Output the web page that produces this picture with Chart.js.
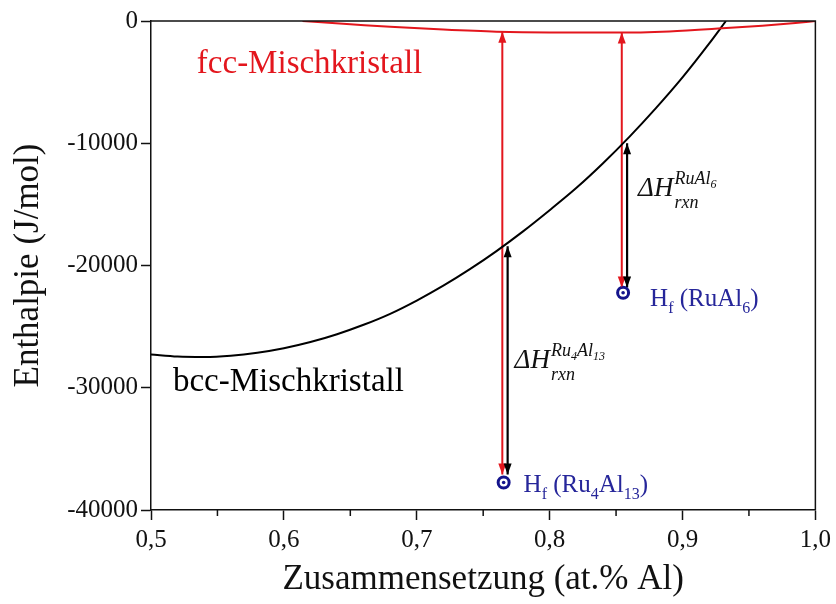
<!DOCTYPE html>
<html>
<head>
<meta charset="utf-8">
<script src="https://cdn.jsdelivr.net/npm/chart.js@4.4.1/dist/chart.umd.min.js"></script>
<style>
  html, body { margin: 0; padding: 0; background: #fff; }
  canvas { display: block; }
</style>
</head>
<body>
<canvas id="chart" width="836" height="604"></canvas>
<script>
// bcc solid solution: enthalpy (J/mol) over Al fraction
const bccX = [0.50, 0.52, 0.54, 0.56, 0.58, 0.60, 0.62, 0.64, 0.66, 0.68, 0.70, 0.72,
              0.74, 0.76, 0.78, 0.80, 0.82, 0.84, 0.86, 0.88, 0.90, 0.92, 0.9327];
const bccH = [-27270, -27440, -27475, -27375, -27135, -26765, -26260, -25620, -24850, -23950, -22865, -21650,
              -20300, -18820, -17210, -15480, -13670, -11660, -9480, -7130, -4615, -1856, 0];

// fcc solid solution
const fccX = [0.614, 0.65, 0.68, 0.72, 0.76, 0.80, 0.85, 0.89, 0.93, 0.96, 0.985, 1.00];
const fccH = [0, -260, -480, -700, -870, -940, -950, -850, -600, -380, -160, 0];

// intermetallic phases and their formation enthalpies
const phases = ["Ru4Al13", "RuAl6"];
const hfX = [0.7654, 0.8553];
const hfH = [-37750, -22230];
const fccAtPhase = [-880, -950];
const bccAtPhase = [-18420, -9990];
const arrowEnd = [-37100, -21800];

const xTicks = [0.5, 0.6, 0.7, 0.8, 0.9, 1.0];
const xMinor = [0.55, 0.65, 0.75, 0.85, 0.95];
const yTicks = [0, -10000, -20000, -30000, -40000];

const RED = "#e3161d";
const NAVY = "#14148c";
const LABEL_BLUE = "#26269a";
const INK = "#111";
const SERIF = "'Liberation Serif', 'Times New Roman', serif";

const arrowSets = [];
phases.forEach((p, i) => {
  arrowSets.push({
    label: "fcc → " + p,
    data: [{ x: hfX[i] - 0.001, y: arrowEnd[i] }, { x: hfX[i] - 0.001, y: fccAtPhase[i] }],
    borderColor: RED, borderWidth: 2, pointRadius: 0, arrowHeads: true, order: 4
  });
  arrowSets.push({
    label: "bcc → " + p,
    data: [{ x: hfX[i] + 0.003, y: arrowEnd[i] }, { x: hfX[i] + 0.003, y: bccAtPhase[i] }],
    borderColor: "#000", borderWidth: 2.2, pointRadius: 0, arrowHeads: true, order: 4
  });
});

const hfPoints = hfX.map((x, i) => ({ x, y: hfH[i] }));

function head(ctx, fx, fy, tx, ty) {
  const a = Math.atan2(ty - fy, tx - fx);
  const len = 11, half = 4;
  const c = Math.cos(a), s = Math.sin(a);
  ctx.beginPath();
  ctx.moveTo(tx, ty);
  ctx.lineTo(tx - len * c - half * s, ty - len * s + half * c);
  ctx.lineTo(tx - len * c + half * s, ty - len * s - half * c);
  ctx.closePath();
  ctx.fill();
}

const arrowHeads = {
  id: "arrowHeads",
  afterDatasetsDraw(chart) {
    const ctx = chart.ctx;
    chart.data.datasets.forEach((ds, i) => {
      if (!ds.arrowHeads) return;
      const pts = chart.getDatasetMeta(i).data;
      const a = pts[0], b = pts[pts.length - 1];
      ctx.save();
      ctx.fillStyle = ds.borderColor;
      head(ctx, b.x, b.y, a.x, a.y);
      head(ctx, a.x, a.y, b.x, b.y);
      ctx.restore();
    });
  }
};

// text runs: [text, size, dy, italic]
function drawRuns(ctx, x, y, runs) {
  runs.forEach(([t, size, dy, italic]) => {
    ctx.font = (italic ? "italic " : "") + size + "px " + SERIF;
    ctx.fillText(t, x, y + dy);
    x += ctx.measureText(t).width;
  });
  return x;
}

const notes = [
  { x: 0.5345, y: -4245, color: RED, runs: [["fcc-Mischkristall", 33, 0]] },
  { x: 0.5165, y: -30290, color: "#000", runs: [["bcc-Mischkristall", 33, 0]] },
  { x: 0.8756, y: -23350, color: LABEL_BLUE,
    runs: [["H", 25, 0], ["f", 16, 7], [" (RuAl", 25, 0], ["6", 16, 7], [")", 25, 0]] },
  { x: 0.7804, y: -38530, color: LABEL_BLUE,
    runs: [["H", 25, 0], ["f", 16, 7], [" (Ru", 25, 0], ["4", 16, 7], ["Al", 25, 0], ["13", 16, 7], [")", 25, 0]] },
  { x: 0.8666, y: -14290, color: "#111", delta: true,
    sup: [["RuAl", 18, 0, true], ["6", 12, 4, true]] },
  { x: 0.7736, y: -28410, color: "#111", delta: true,
    sup: [["Ru", 18, 0, true], ["4", 12, 4, true], ["Al", 18, 0, true], ["13", 12, 4, true]] }
];

const annotations = {
  id: "annotations",
  afterDraw(chart) {
    const { ctx, chartArea: area, scales: { x, y } } = chart;
    ctx.save();

    // frame on top and right
    ctx.strokeStyle = INK;
    ctx.lineWidth = 1.5;
    ctx.beginPath();
    ctx.moveTo(area.left, area.top);
    ctx.lineTo(area.right, area.top);
    ctx.lineTo(area.right, area.bottom);
    ctx.stroke();

    // minor ticks on the composition axis
    ctx.beginPath();
    xMinor.forEach(v => {
      const px = x.getPixelForValue(v);
      ctx.moveTo(px, area.bottom);
      ctx.lineTo(px, area.bottom + 6);
    });
    ctx.stroke();

    ctx.textAlign = "left";
    ctx.textBaseline = "alphabetic";
    notes.forEach(n => {
      const px = x.getPixelForValue(n.x);
      const py = y.getPixelForValue(n.y);
      ctx.fillStyle = n.color;
      if (n.delta) {
        const x0 = drawRuns(ctx, px, py, [["ΔH", 27, 0, true]]) + 1;
        drawRuns(ctx, x0, py - 12, n.sup);
        drawRuns(ctx, x0, py + 12, [["rxn", 18, 0, true]]);
      } else {
        drawRuns(ctx, px, py, n.runs);
      }
    });
    ctx.restore();
  }
};

new Chart(document.getElementById("chart"), {
  type: "line",
  data: {
    datasets: [
      {
        label: "Hf center", data: hfPoints, showLine: false,
        pointRadius: 1.8, pointBackgroundColor: NAVY, pointBorderWidth: 0, order: 0
      },
      {
        label: "Hf", data: hfPoints, showLine: false,
        pointRadius: 5.5, pointBorderWidth: 3, pointBorderColor: NAVY,
        pointBackgroundColor: "#fff", order: 1
      },
      {
        label: "fcc-Mischkristall",
        data: fccX.map((x, i) => ({ x, y: fccH[i] })),
        borderColor: RED, borderWidth: 2, pointRadius: 0,
        cubicInterpolationMode: "monotone", order: 2
      },
      {
        label: "bcc-Mischkristall",
        data: bccX.map((x, i) => ({ x, y: bccH[i] })),
        borderColor: "#000", borderWidth: 2, pointRadius: 0,
        cubicInterpolationMode: "monotone", order: 3
      },
      ...arrowSets
    ]
  },
  options: {
    responsive: false,
    devicePixelRatio: 1,
    animation: false,
    layout: { padding: { top: 21, right: 18, left: 0, bottom: 0 } },
    plugins: { legend: { display: false }, tooltip: { enabled: false } },
    scales: {
      x: {
        type: "linear", min: 0.5, max: 1.0,
        afterBuildTicks: s => { s.ticks = xTicks.map(v => ({ value: v })); },
        afterFit: s => { s.height = 94; },
        grid: { drawOnChartArea: false, tickLength: 10, tickWidth: 1.5, tickColor: INK },
        border: { display: true, color: INK, width: 1.5 },
        ticks: {
          padding: 5, maxRotation: 0, color: INK,
          font: { family: SERIF, size: 25 },
          callback: v => v.toFixed(1).replace(".", ",")
        },
        title: {
          display: true, text: "Zusammensetzung (at.% Al)", color: INK,
          font: { family: SERIF, size: 35 }, padding: { top: 0, bottom: 3 }
        }
      },
      y: {
        type: "linear", min: -40000, max: 0,
        afterBuildTicks: s => { s.ticks = yTicks.map(v => ({ value: v })); },
        afterFit: s => { s.width = 151; },
        grid: { drawOnChartArea: false, tickLength: 10, tickWidth: 1.5, tickColor: INK },
        border: { display: true, color: INK, width: 1.5 },
        ticks: {
          padding: 3, color: INK,
          font: { family: SERIF, size: 25 },
          callback: v => String(v)
        },
        title: {
          display: true, text: "Enthalpie (J/mol)", color: INK,
          font: { family: SERIF, size: 35 }, padding: { top: 8, bottom: 0 }
        }
      }
    }
  },
  plugins: [arrowHeads, annotations]
});
</script>
</body>
</html>
